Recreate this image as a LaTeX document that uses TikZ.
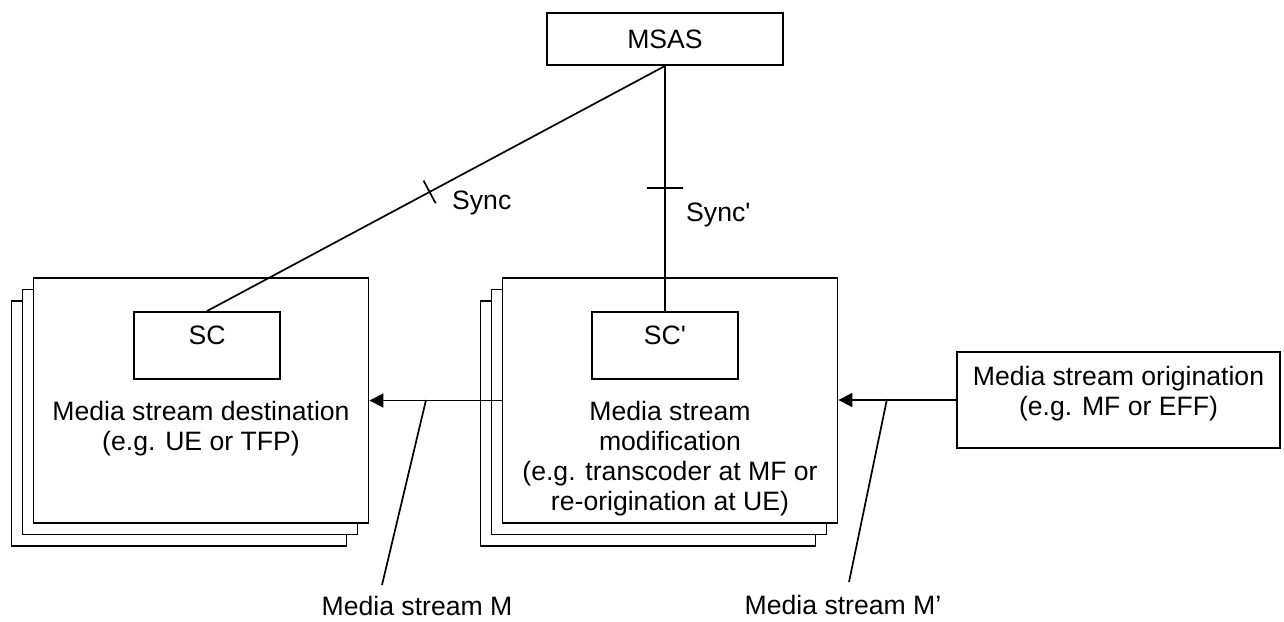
\documentclass[tikz,border=0pt]{standalone}
\usepackage{fontspec}
\setmainfont{Liberation Sans}
\usepackage{tikz}
\usetikzlibrary{arrows.meta, positioning, calc}
\tikzstyle{box} = [rectangle, draw=black, fill=white, line width=1.9pt, inner sep=0pt]
\tikzstyle{bigbox} = [box, minimum width=335pt, minimum height=245pt]
\tikzstyle{scbox} = [box, minimum width=146pt, minimum height=67pt]
\tikzstyle{arrow} = [line width=1.8pt, -{Triangle[length=14pt, width=14pt]}]
\tikzstyle{leader} = [line width=1.7pt]
\tikzstyle{tick} = [sloped, inner sep=0pt, minimum width=0pt]
\tikzstyle{txt} = [inner sep=0pt, align=center]

\begin{document}
\begin{tikzpicture}[x=1pt, y=-1pt, font=\fontsize{26.6pt}{30pt}\selectfont]
    \useasboundingbox (0,0) rectangle (1284,621);

    % MSAS
    \node (msas) [box, minimum width=236pt, minimum height=52pt] at (665,39) {MSAS};

    % Destino
    \node (dst3) [bigbox] at (179,423.5) {};
    \node (dst2) [bigbox] at (190,412) {};
    \node (dst1) [bigbox] at (201,400.5) {};
    \node (sc) [scbox] at (207,345.5) {};
    \node (sctxt) [txt, below=15pt of sc.north] {SC};
    \node (dsttxt) [txt, below=124pt of dst1.north] {Media stream destination\\(e.g. UE or TFP)};

    % Modificacion
    \node (mod3) [bigbox] at (648,423.5) {};
    \node (mod2) [bigbox] at (659,412) {};
    \node (mod1) [bigbox] at (670,400.5) {};
    \node (scm) [scbox] at (665,345.5) {};
    \node (scmtxt) [txt, below=15pt of scm.north] {SC\textquotesingle};
    \node (modtxt) [txt, below=124pt of mod1.north] {Media stream\\modification\\(e.g. transcoder at MF or\\re-origination at UE)};

    % Origen
    \node (orig) [box, minimum width=323pt, minimum height=96pt] at (1118.5,400) {};
    \node (origtxt) [txt, below=15pt of orig.north] {Media stream origination\\(e.g. MF or EFF)};

    % Flechas
    \draw [arrow] (orig.west) -- (orig.west -| mod1.east);
    \draw [arrow] (mod1.west) -- (dst1.east);

    % Sync
    \draw [leader] (msas.south) -- (sc.north) node [tick, pos=0.514, minimum height=24pt] (tk1) {};
    \draw [leader] (tk1.north) -- (tk1.south);
    \draw [leader] (msas.south) -- (scm.north) node [tick, pos=0.498, minimum height=35pt] (tk2) {};
    \draw [leader] (tk2.north) -- (tk2.south);
    \node (sync) [txt, anchor=west] at (452,203) {Sync};
    \node (syncm) [txt, anchor=west] at (686,215) {Sync\textquotesingle};

    % Media stream
    \coordinate (tapM) at (426,400);
    \coordinate (footM) at (382,585);
    \coordinate (tapMm) at (887,399);
    \coordinate (footMm) at (849,582);
    \draw [leader] (tapM) -- (footM);
    \draw [leader] (tapMm) -- (footMm);
    \node (lblM) [txt] at (417,606) {Media stream M};
    \node (lblMm) [txt] at (843,605) {Media stream M’};
\end{tikzpicture}
\end{document}
